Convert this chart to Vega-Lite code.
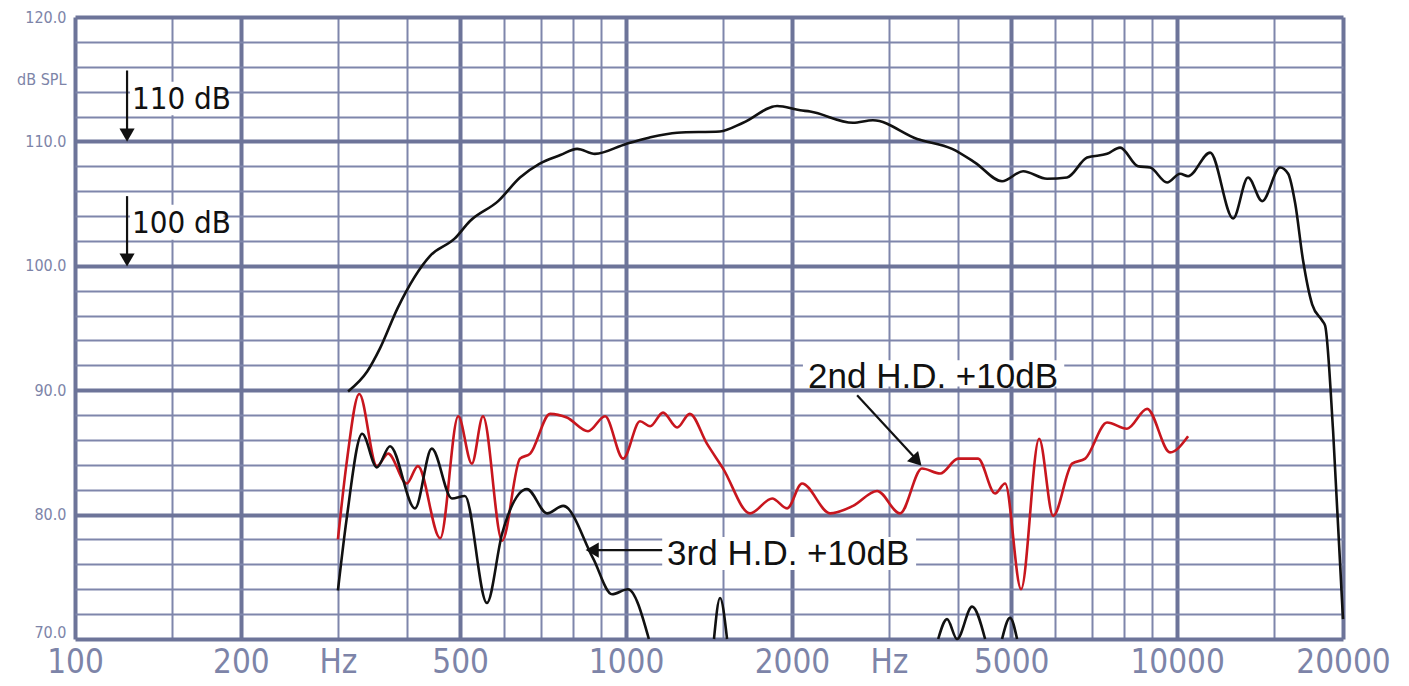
{
  "$schema": "https://vega.github.io/schema/vega-lite/v6.json",
  "width": 1268,
  "height": 622,
  "autosize": {"type": "none"},
  "padding": {"left": 75, "top": 17, "right": 66, "bottom": 47},
  "background": "white",
  "config": {
    "view": {"stroke": null},
    "axis": {"domain": false, "ticks": false, "title": null, "labelOverlap": false, "labelFlush": false, "labelBound": false}
  },
  "datasets": {
    "curves": [
      {"s":"SPL","seg":"m","f":313,"db":89.9},{"s":"SPL","seg":"m","f":339,"db":91.5},{"s":"SPL","seg":"m","f":358,"db":93.4},{"s":"SPL","seg":"m","f":385,"db":96.6},{"s":"SPL","seg":"m","f":441,"db":100.8},{"s":"SPL","seg":"m","f":489,"db":102.2},{"s":"SPL","seg":"m","f":521,"db":103.6},{"s":"SPL","seg":"m","f":586,"db":105.2},{"s":"SPL","seg":"m","f":642,"db":107.1},{"s":"SPL","seg":"m","f":696,"db":108.2},{"s":"SPL","seg":"m","f":760,"db":108.9},{"s":"SPL","seg":"m","f":815,"db":109.4},{"s":"SPL","seg":"m","f":878,"db":109.0},{"s":"SPL","seg":"m","f":1000,"db":109.8},{"s":"SPL","seg":"m","f":1100,"db":110.3},{"s":"SPL","seg":"m","f":1238,"db":110.7},{"s":"SPL","seg":"m","f":1480,"db":110.8},{"s":"SPL","seg":"m","f":1631,"db":111.5},{"s":"SPL","seg":"m","f":1880,"db":112.85},{"s":"SPL","seg":"m","f":2070,"db":112.5},{"s":"SPL","seg":"m","f":2158,"db":112.4},{"s":"SPL","seg":"m","f":2582,"db":111.5},{"s":"SPL","seg":"m","f":2806,"db":111.7},{"s":"SPL","seg":"m","f":3375,"db":110.2},{"s":"SPL","seg":"m","f":3906,"db":109.4},{"s":"SPL","seg":"m","f":4298,"db":108.3},{"s":"SPL","seg":"m","f":4812,"db":106.8},{"s":"SPL","seg":"m","f":5254,"db":107.6},{"s":"SPL","seg":"m","f":5808,"db":107.0},{"s":"SPL","seg":"m","f":6312,"db":107.1},{"s":"SPL","seg":"m","f":6866,"db":108.7},{"s":"SPL","seg":"m","f":7464,"db":109.0},{"s":"SPL","seg":"m","f":7880,"db":109.5},{"s":"SPL","seg":"m","f":8496,"db":108.0},{"s":"SPL","seg":"m","f":8933,"db":107.9},{"s":"SPL","seg":"m","f":9590,"db":106.7},{"s":"SPL","seg":"m","f":10125,"db":107.4},{"s":"SPL","seg":"m","f":10470,"db":107.2},{"s":"SPL","seg":"m","f":11480,"db":109.1},{"s":"SPL","seg":"m","f":12635,"db":103.8},{"s":"SPL","seg":"m","f":13450,"db":107.1},{"s":"SPL","seg":"m","f":14265,"db":105.2},{"s":"SPL","seg":"m","f":15380,"db":107.9},{"s":"SPL","seg":"m","f":15905,"db":107.4},{"s":"SPL","seg":"m","f":16380,"db":105.0},{"s":"SPL","seg":"m","f":16930,"db":100.4},{"s":"SPL","seg":"m","f":17580,"db":96.9},{"s":"SPL","seg":"m","f":18330,"db":95.6},{"s":"SPL","seg":"m","f":18560,"db":95.2},{"s":"SPL","seg":"m","f":19190,"db":86.7},{"s":"SPL","seg":"m","f":20000,"db":71.6},
      {"s":"2nd","seg":"h2","f":300,"db":78.0},{"s":"2nd","seg":"h2","f":311,"db":84.1},{"s":"2nd","seg":"h2","f":328,"db":89.7},{"s":"2nd","seg":"h2","f":353,"db":83.9},{"s":"2nd","seg":"h2","f":370,"db":84.9},{"s":"2nd","seg":"h2","f":400,"db":82.5},{"s":"2nd","seg":"h2","f":419,"db":83.9},{"s":"2nd","seg":"h2","f":460,"db":78.1},{"s":"2nd","seg":"h2","f":496,"db":87.9},{"s":"2nd","seg":"h2","f":525,"db":84.1},{"s":"2nd","seg":"h2","f":550,"db":87.9},{"s":"2nd","seg":"h2","f":596,"db":77.9},{"s":"2nd","seg":"h2","f":642,"db":84.5},{"s":"2nd","seg":"h2","f":670,"db":84.9},{"s":"2nd","seg":"h2","f":728,"db":88.1},{"s":"2nd","seg":"h2","f":781,"db":87.8},{"s":"2nd","seg":"h2","f":853,"db":86.7},{"s":"2nd","seg":"h2","f":916,"db":87.9},{"s":"2nd","seg":"h2","f":988,"db":84.5},{"s":"2nd","seg":"h2","f":1060,"db":87.5},{"s":"2nd","seg":"h2","f":1106,"db":87.1},{"s":"2nd","seg":"h2","f":1167,"db":88.2},{"s":"2nd","seg":"h2","f":1238,"db":87.0},{"s":"2nd","seg":"h2","f":1305,"db":88.1},{"s":"2nd","seg":"h2","f":1402,"db":85.7},{"s":"2nd","seg":"h2","f":1500,"db":83.7},{"s":"2nd","seg":"h2","f":1679,"db":80.1},{"s":"2nd","seg":"h2","f":1841,"db":81.3},{"s":"2nd","seg":"h2","f":1960,"db":80.5},{"s":"2nd","seg":"h2","f":2086,"db":82.5},{"s":"2nd","seg":"h2","f":2346,"db":80.1},{"s":"2nd","seg":"h2","f":2582,"db":80.7},{"s":"2nd","seg":"h2","f":2855,"db":81.9},{"s":"2nd","seg":"h2","f":3142,"db":80.1},{"s":"2nd","seg":"h2","f":3443,"db":83.7},{"s":"2nd","seg":"h2","f":3716,"db":83.3},{"s":"2nd","seg":"h2","f":4005,"db":84.5},{"s":"2nd","seg":"h2","f":4353,"db":84.5},{"s":"2nd","seg":"h2","f":4674,"db":81.7},{"s":"2nd","seg":"h2","f":4874,"db":82.5},{"s":"2nd","seg":"h2","f":5210,"db":74.0},{"s":"2nd","seg":"h2","f":5618,"db":86.1},{"s":"2nd","seg":"h2","f":5957,"db":79.9},{"s":"2nd","seg":"h2","f":6448,"db":84.1},{"s":"2nd","seg":"h2","f":6811,"db":84.5},{"s":"2nd","seg":"h2","f":7464,"db":87.4},{"s":"2nd","seg":"h2","f":8110,"db":86.9},{"s":"2nd","seg":"h2","f":8822,"db":88.5},{"s":"2nd","seg":"h2","f":9710,"db":85.0},{"s":"2nd","seg":"h2","f":10470,"db":86.3},
      {"s":"3rd","seg":"a","f":300,"db":73.9},{"s":"3rd","seg":"a","f":311,"db":79.6},{"s":"3rd","seg":"a","f":332,"db":86.5},{"s":"3rd","seg":"a","f":353,"db":83.8},{"s":"3rd","seg":"a","f":373,"db":85.5},{"s":"3rd","seg":"a","f":414,"db":80.5},{"s":"3rd","seg":"a","f":444,"db":85.3},{"s":"3rd","seg":"a","f":483,"db":81.3},{"s":"3rd","seg":"a","f":510,"db":81.5},{"s":"3rd","seg":"a","f":559,"db":72.9},{"s":"3rd","seg":"a","f":596,"db":78.5},{"s":"3rd","seg":"a","f":661,"db":82.05},{"s":"3rd","seg":"a","f":719,"db":80.1},{"s":"3rd","seg":"a","f":769,"db":80.7},{"s":"3rd","seg":"a","f":871,"db":76.5},{"s":"3rd","seg":"a","f":943,"db":73.6},{"s":"3rd","seg":"a","f":1008,"db":74.0},{"s":"3rd","seg":"a","f":1100,"db":70.0},
      {"s":"3rd","seg":"b","f":1444,"db":70.0},{"s":"3rd","seg":"b","f":1481,"db":73.3},{"s":"3rd","seg":"b","f":1525,"db":70.0},
      {"s":"3rd","seg":"c","f":3685,"db":70.0},{"s":"3rd","seg":"c","f":3824,"db":71.6},{"s":"3rd","seg":"c","f":3987,"db":70.0},{"s":"3rd","seg":"c","f":4246,"db":72.6},{"s":"3rd","seg":"c","f":4483,"db":70.0},
      {"s":"3rd","seg":"d","f":4812,"db":70.0},{"s":"3rd","seg":"d","f":4975,"db":71.7},{"s":"3rd","seg":"d","f":5124,"db":70.0}
    ],
    "boxes": [
      {"f":125.8,"f2":186,"db":114.8,"db2":112.1},
      {"f":125.8,"f2":186,"db":104.9,"db2":102.1},
      {"f":1163,"f2":3360,"db":78.2,"db2":75.55},
      {"f":2094,"f2":6240,"db":92.4,"db2":90.3}
    ],
    "notes": [
      {"k":"big","t":"110 dB","f":126.9,"db":113.3},
      {"k":"big","t":"100 dB","f":126.9,"db":103.4},
      {"k":"hd","t":"2nd H.D. +10dB","f":2139,"db":91.06},
      {"k":"hd","t":"3rd H.D. +10dB","f":1187,"db":76.8}
    ],
    "arrows": [
      {"f":124.3,"db":115.7,"f2":124.3,"db2":110.8},
      {"f":124.3,"db":105.6,"f2":124.3,"db2":100.8},
      {"f":2626,"db":89.6,"f2":3346,"db2":84.55},
      {"f":1163,"db":77.15,"f2":868,"db2":77.15}
    ],
    "heads": [
      {"f":124.3,"db":110.5,"a":0},
      {"f":124.3,"db":100.47,"a":0},
      {"f":3373,"db":84.31,"a":317},
      {"f":868,"db":77.15,"a":90}
    ]
  },
  "layer": [
    {
      "data": {"name": "boxes"},
      "mark": {"type": "rect", "color": "white"},
      "encoding": {
        "x": {"field": "f", "type": "quantitative",
          "scale": {"type": "log", "domain": [100, 20000], "nice": false},
          "axis": {
            "values": [100,150,200,300,400,500,600,700,800,900,1000,1500,2000,3000,4000,5000,6000,7000,8000,9000,10000,15000,20000],
            "tickCount": 200,
            "grid": true,
            "gridWidth": {"condition": {"test": "indexof([100,200,500,1000,2000,5000,10000,20000], datum.value) >= 0", "value": 4}, "value": 2},
            "gridColor": {"condition": {"test": "indexof([100,200,500,1000,2000,5000,10000,20000], datum.value) >= 0", "value": "#6d7499"}, "value": "#7f86ab"},
            "labelExpr": "indexof([100,200,500,1000,2000,5000,10000,20000], datum.value) >= 0 ? format(datum.value, 'd') : ((datum.value == 300 || datum.value == 3000) ? 'Hz' : '')",
            "labelFont": "Liberation Sans Narrow, DejaVu Sans Condensed, Arial Narrow, sans-serif",
            "labelFontSize": 33,
            "labelColor": "#7d84a8",
            "labelPadding": 7
          }
        },
        "x2": {"field": "f2"},
        "y": {"field": "db", "type": "quantitative",
          "scale": {"domain": [70, 120], "nice": false, "zero": false},
          "axis": {
            "values": [70,72,74,76,78,80,82,84,86,88,90,92,94,96,98,100,102,104,106,108,110,112,114,115,116,118,120],
            "tickCount": 200,
            "grid": true,
            "gridWidth": {"condition": {"test": "datum.value % 10 == 0", "value": 4}, "value": 2},
            "gridColor": {"condition": {"test": "datum.value % 10 == 0", "value": "#6d7499"}, "value": "#7f86ab"},
            "gridOpacity": {"condition": {"test": "datum.value == 115", "value": 0}, "value": 1},
            "labelOffset": {"condition": {"test": "datum.value == 70", "value": -7}, "value": 0},
            "labelExpr": "datum.value == 115 ? 'dB SPL' : (datum.value % 10 == 0 ? format(datum.value, '.1f') : '')",
            "labelFont": "Liberation Sans Narrow, DejaVu Sans Condensed, Arial Narrow, sans-serif",
            "labelFontSize": 16,
            "labelColor": "#7d84a8",
            "labelPadding": 9
          }
        },
        "y2": {"field": "db2"}
      }
    },
    {
      "data": {"name": "curves"},
      "mark": {"type": "line", "interpolate": "monotone", "strokeWidth": 2.6},
      "encoding": {
        "x": {"field": "f", "type": "quantitative"},
        "y": {"field": "db", "type": "quantitative"},
        "color": {"field": "s", "type": "nominal", "legend": null,
          "scale": {"domain": ["SPL", "2nd", "3rd"], "range": ["#111111", "#c8161e", "#111111"]}},
        "detail": {"field": "seg"}
      }
    },
    {
      "data": {"name": "arrows"},
      "mark": {"type": "rule", "color": "#111111", "strokeWidth": 2.2},
      "encoding": {
        "x": {"field": "f", "type": "quantitative"},
        "x2": {"field": "f2"},
        "y": {"field": "db", "type": "quantitative"},
        "y2": {"field": "db2"}
      }
    },
    {
      "data": {"name": "heads"},
      "mark": {"type": "point", "shape": "triangle-down", "filled": true, "color": "#111111", "size": 230, "opacity": 1},
      "encoding": {
        "x": {"field": "f", "type": "quantitative"},
        "y": {"field": "db", "type": "quantitative"},
        "angle": {"field": "a", "type": "quantitative", "scale": null}
      }
    },
    {
      "data": {"name": "notes"},
      "transform": [{"filter": "datum.k == 'big'"}],
      "mark": {"type": "text", "align": "left", "baseline": "middle", "fontSize": 31, "color": "#111111",
        "font": "Liberation Sans Narrow, DejaVu Sans Condensed, Arial Narrow, sans-serif"},
      "encoding": {
        "x": {"field": "f", "type": "quantitative"},
        "y": {"field": "db", "type": "quantitative"},
        "text": {"field": "t"}
      }
    },
    {
      "data": {"name": "notes"},
      "transform": [{"filter": "datum.k == 'hd'"}],
      "mark": {"type": "text", "align": "left", "baseline": "middle", "fontSize": 35, "color": "#111111",
        "font": "Liberation Sans, Arial, sans-serif"},
      "encoding": {
        "x": {"field": "f", "type": "quantitative"},
        "y": {"field": "db", "type": "quantitative"},
        "text": {"field": "t"}
      }
    }
  ]
}
